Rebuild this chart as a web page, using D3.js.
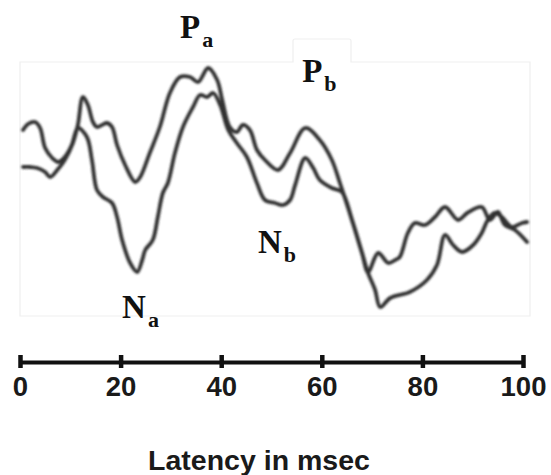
<!DOCTYPE html>
<html>
<head>
<meta charset="utf-8">
<script src="https://cdn.jsdelivr.net/npm/d3@7"></script>
<style>
  body { margin: 0; background: #fff; }
</style>
</head>
<body>
<svg id="svg1" width="551" height="475"></svg>
<script>

// trace a (deep Na dip)
var latencyA = [0.6,1.6,3.0,4.0,5.0,6.4,7.6,8.9,10.3,11.5,13.3,14.3,15.3,16.5,18.3,19.3,20.3,21.9,23.3,24.3,24.9,26.4,27.4,28.4,29.4,30.8,32.4,34.4,35.8,37.2,38.4,39.8,41.4,43.1,45.1,47.1,48.7,50.7,52.3,53.7,54.7,56.7,58.3,59.6,62.0,64.0,66.0,68.0,69.2,71.2,73.2,74.6,75.5,77.1,78.5,80.5,82.5,84.5,87.1,88.9,91.8,93.4,95.0,96.4,98.4,100.8];
var amplitudeA = [59,65,67,61,41,31,27,32,44,61,52,29,-1,-8,-14,-28,-51,-74,-83,-71,-61,-51,-28,-4,6,36,62,82,94,92,96,84,59,46,32,6,-11,-14,-16,-11,4,31,21,9,1,-3,-31,-64,-83,-64,-74,-71,-68,-44,-34,-36,-28,-18,-31,-24,-18,-31,-23,-36,-41,-53];

// trace b (shallow dip, higher Pa)
var latencyB = [0.6,2.0,3.4,5.0,6.0,7.4,8.9,10.5,11.5,12.5,13.5,14.5,15.3,16.3,17.3,18.3,19.3,20.9,22.9,23.9,25.8,27.8,29.8,31.8,33.8,35.4,37.4,39.2,40.2,41.7,43.1,44.3,45.7,47.1,48.7,51.3,53.7,56.7,59.6,62.0,63.6,64.2,66.0,68.0,69.2,70.6,71.6,73.6,77.5,80.9,82.9,84.5,86.1,87.9,90.1,91.8,93.0,94.4,95.8,97.8,99.8,100.8];
var amplitudeB = [22,22,21,17,12,19,29,46,64,92,84,67,62,64,66,62,44,24,7,12,36,62,96,112,112,107,121,109,89,62,57,64,59,39,29,19,36,61,49,29,6,-3,-31,-64,-84,-101,-118,-109,-103,-91,-76,-46,-56,-63,-56,-44,-31,-24,-28,-38,-34,-33];

var tickValues = [0, 20, 40, 60, 80, 100];
var peakLabels = [
  {main: "P", sub: "a", t: 31.8, v: 151},
  {main: "P", sub: "b", t: 56.1, v: 107},
  {main: "N", sub: "a", t: 20.3, v: -129},
  {main: "N", sub: "b", t: 47.3, v: -64}
];
var xTitle = "Latency in msec";

var svg1 = d3.select("#svg1");
var width = 551;
var height = 475;

var x = d3.scaleLinear().domain([0, 100]).range([20, 523]);
var y = d3.scaleLinear().domain([-127, 127]).range([316, 62]);

var defs = svg1.append("defs");
defs.append("filter")
    .attr("id", "soft")
  .append("feGaussianBlur")
    .attr("stdDeviation", 0.85);

// faint frame with the little tab behind the Pb label
svg1.append("path")
    .attr("d", "M20,62 H293 V41 Q293,39 295,39 H349 Q351,39 351,41 V62 H530 V316 H20 Z")
    .attr("fill", "none")
    .attr("stroke", "#efefef")
    .attr("stroke-width", 1.2);

var line = d3.line()
    .x(function(d) { return x(d[0]); })
    .y(function(d) { return y(d[1]); })
    .curve(d3.curveCatmullRom.alpha(0.5));

var traceA = d3.zip(latencyA, amplitudeA);
var traceB = d3.zip(latencyB, amplitudeB);

var g = svg1.append("g").attr("filter", "url(#soft)");
g.selectAll("path")
    .data([traceA, traceB])
    .enter()
    .append("path")
    .attr("d", line)
    .attr("fill", "none")
    .attr("stroke", "#303030")
    .attr("stroke-width", 3.8)
    .attr("stroke-linejoin", "round")
    .attr("stroke-linecap", "round");

// peak labels
var lab = svg1.append("g")
    .selectAll("text")
    .data(peakLabels)
    .enter()
    .append("text")
    .attr("x", function(d) { return x(d.t); })
    .attr("y", function(d) { return y(d.v); })
    .attr("font-family", "Liberation Serif, Times New Roman, serif")
    .attr("font-weight", "bold")
    .attr("font-size", 33)
    .attr("fill", "#111");
lab.append("tspan").text(function(d) { return d.main; });
lab.append("tspan")
    .attr("dx", 2)
    .attr("dy", 9)
    .attr("font-size", 22)
    .text(function(d) { return d.sub; });

// x axis
var axis = d3.axisBottom(x)
    .tickValues(tickValues)
    .tickSizeInner(0)
    .tickSizeOuter(0)
    .tickPadding(0);

var ax = svg1.append("g")
    .attr("transform", "translate(0,362)")
    .call(axis);

ax.select(".domain")
    .attr("stroke", "#111")
    .attr("stroke-width", 4);
ax.selectAll(".tick line")
    .attr("y1", -7)
    .attr("y2", 6)
    .attr("stroke", "#111")
    .attr("stroke-width", 4.5);
ax.selectAll(".tick text")
    .attr("y", 34)
    .attr("dy", 0)
    .attr("font-family", "Liberation Sans, Arial, sans-serif")
    .attr("font-weight", "bold")
    .attr("font-size", 27.5)
    .attr("fill", "#1a1a1a");

svg1.append("text")
    .attr("x", 259)
    .attr("y", 470)
    .attr("text-anchor", "middle")
    .attr("font-family", "Liberation Sans, Arial, sans-serif")
    .attr("font-weight", "bold")
    .attr("font-size", 28.5)
    .attr("fill", "#1a1a1a")
    .text(xTitle);

</script>
</body>
</html>
